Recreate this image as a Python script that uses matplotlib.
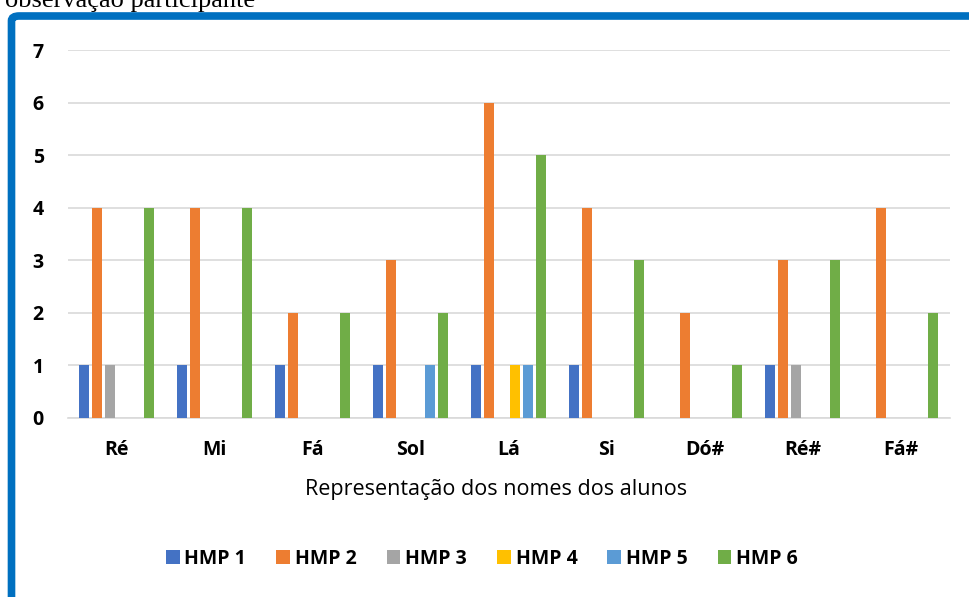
import numpy as np
import matplotlib
matplotlib.use("Agg")
import matplotlib.pyplot as plt
from matplotlib.patches import FancyBboxPatch

# ============================================================
# DADOS
# ============================================================

notas = ["Ré", "Mi", "Fá", "Sol", "Lá", "Si", "Dó#", "Ré#", "Fá#"]

hmp1 = [1, 1, 1, 1, 1, 1, 0, 1, 0]
hmp2 = [4, 4, 2, 3, 6, 4, 2, 3, 4]
hmp3 = [1, 0, 0, 0, 0, 0, 0, 1, 0]
hmp4 = [0, 0, 0, 0, 1, 0, 0, 0, 0]
hmp5 = [0, 0, 0, 1, 1, 0, 0, 0, 0]
hmp6 = [4, 4, 2, 2, 5, 3, 1, 3, 2]

series_names = ["HMP 1", "HMP 2", "HMP 3", "HMP 4", "HMP 5", "HMP 6"]
series_values = [hmp1, hmp2, hmp3, hmp4, hmp5, hmp6]
colors = ["#4472C4", "#ED7D31", "#A5A5A5", "#FFC000", "#5B9BD5", "#70AD47"]

y_ticks = [0, 1, 2, 3, 4, 5, 6, 7]

# ============================================================
# FIGURA
# ============================================================

plt.rcParams["font.family"] = ["Open Sans", "DejaVu Sans"]

W, H = 969, 597
fig = plt.figure(figsize=(W / 100, H / 100), dpi=100)

ax = fig.add_axes([67.5 / W, 1 - 417.7 / H, 882 / W, (417.7 - 50) / H])

x = np.arange(len(notas))
pitch = 0.133
bar_w = 0.105

for i, (name, vals, col) in enumerate(zip(series_names, series_values, colors)):
    offs = (i - 2.5) * pitch
    ax.bar(x + offs, vals, width=bar_w, color=col, label=name, zorder=3)

ax.set_xlim(-0.5, len(notas) - 0.5)
ax.set_ylim(0, 7)
ax.set_yticks(y_ticks)
ax.set_xticks(x)
ax.set_xticklabels(notas, fontsize=14, fontweight="bold")
ax.set_yticklabels([str(t) for t in y_ticks], fontsize=14, fontweight="bold")
ax.tick_params(axis="both", length=0)
ax.tick_params(axis="y", pad=17)
ax.tick_params(axis="x", pad=16)

ax.grid(axis="y", color="#D9D9D9", linewidth=1.2, zorder=0)
for s in ["top", "right", "left"]:
    ax.spines[s].set_visible(False)
ax.spines["bottom"].set_color("#D9D9D9")
ax.spines["bottom"].set_linewidth(1.2)

fig.text(496 / W, 1 - 489 / H, "Representação dos nomes dos alunos",
         ha="center", va="center", fontsize=15.5)

handles, labels = ax.get_legend_handles_labels()
leg = fig.legend(handles, labels, loc="center", ncol=6,
                 bbox_to_anchor=(482 / W, 1 - 559 / H),
                 frameon=False, prop={"size": 14, "weight": "bold"},
                 handlelength=0.7, handleheight=0.7,
                 handletextpad=0.25, columnspacing=1.55)

# moldura azul
frame = FancyBboxPatch((11.5 / W, -0.05), 1.2, (H - 16) / H + 0.05,
                       boxstyle="round,pad=0,rounding_size=0.008",
                       transform=fig.transFigure, fill=False,
                       edgecolor="#0070C0", linewidth=5.5, clip_on=False)
fig.patches.append(frame)

fig.text(5 / W, 1 - 7 / H, "observação participante",
         ha="left", va="baseline", fontsize=19,
         family=["Liberation Serif", "DejaVu Serif"])

fig.savefig("out.png", dpi=100)
